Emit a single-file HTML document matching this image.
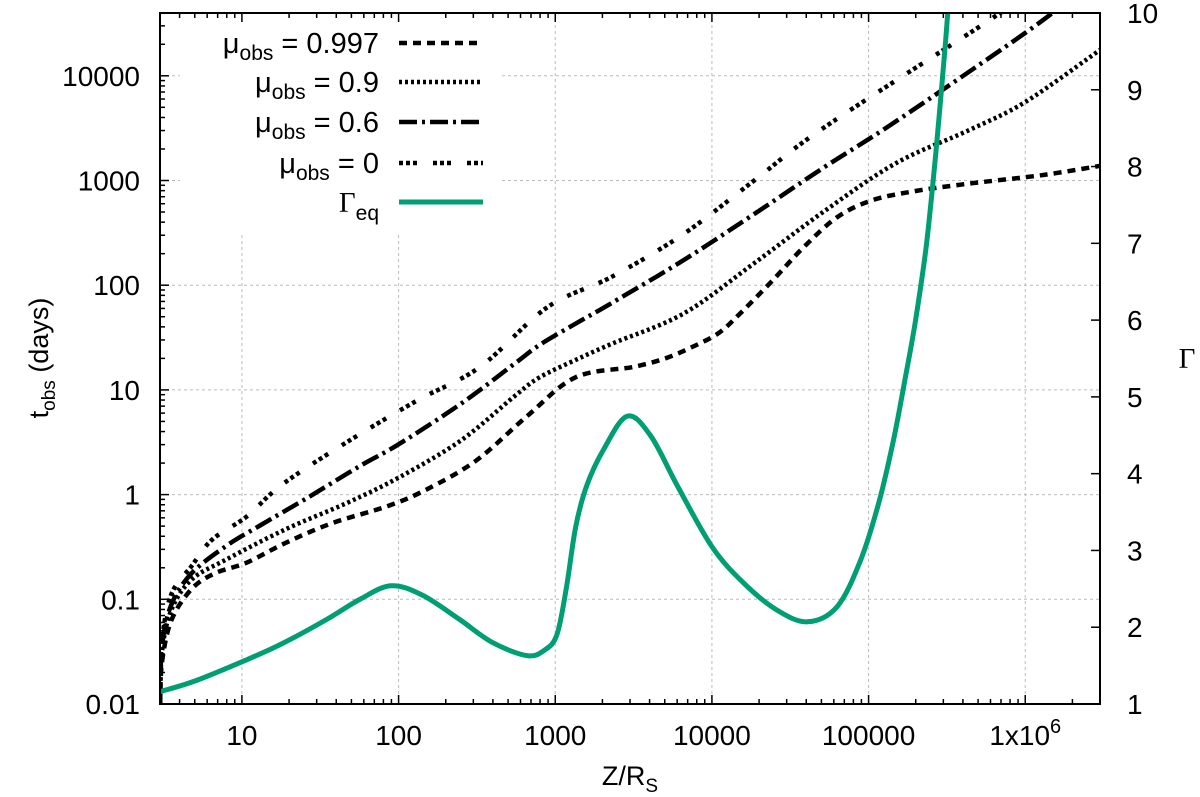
<!DOCTYPE html>
<html><head><meta charset="utf-8">
<style>
html,body{margin:0;padding:0;background:#fff;}
svg{display:block;font-family:"Liberation Sans",sans-serif;}
</style></head>
<body>
<svg id="chart" width="1200" height="797" viewBox="0 0 1200 797" xmlns="http://www.w3.org/2000/svg">
<g id="grid"></g>
<g id="series"></g>
<g id="axes"></g>
<g id="legend"></g>
<text transform="translate(48,358) rotate(-90)" text-anchor="middle" font-size="27">t<tspan font-size="19" dy="7">obs</tspan><tspan dy="-7"> (days)</tspan></text>
<text x="630" y="785" text-anchor="middle" font-size="27">Z/R<tspan font-size="19" dy="7">S</tspan></text>
<text x="1187" y="368" text-anchor="middle" font-size="29" font-family="Liberation Serif, serif">Γ</text>
</svg>
<script>
// ---- data ----
const logZ997 = [0.478,0.49,0.55,0.68,0.83,1.03,1.28,1.58,1.93,2.18,2.5,2.82,3.13,3.5,3.7,3.86,4.04,4.18,4.39,4.59,4.8,5.02,5.3,5.64,6.1,6.48];
const logT997 = [-2.0,-1.6,-1.2,-0.9,-0.75,-0.65,-0.46,-0.27,-0.11,0.05,0.33,0.75,1.12,1.22,1.30,1.40,1.54,1.73,2.05,2.37,2.65,2.81,2.90,2.97,3.05,3.14];
const logZ09 = [0.478,0.49,0.55,0.68,0.9,1.28,1.67,2.01,2.4,2.74,2.9,3.15,3.36,3.82,4.27,4.72,5.18,5.64,6.0,6.48];
const logT09 = [-2.0,-1.5,-1.1,-0.81,-0.62,-0.33,-0.08,0.17,0.52,0.94,1.12,1.30,1.44,1.73,2.21,2.71,3.17,3.48,3.75,4.25];
const logZ06 = [0.478,0.49,0.55,0.68,0.9,1.11,1.43,1.75,2.0,2.4,2.74,2.9,3.15,3.36,3.82,4.27,4.72,5.18,6.0,6.3];
const logT06 = [-2.0,-1.45,-1.05,-0.75,-0.49,-0.30,-0.02,0.27,0.48,0.87,1.25,1.43,1.65,1.83,2.24,2.68,3.13,3.57,4.41,4.75];
const logZ0 = [0.478,0.49,0.55,0.68,0.81,1.03,1.26,1.69,2.12,2.52,2.95,3.36,3.82,4.27,4.72,5.84,6.0];
const logT0 = [-2.0,-1.4,-0.95,-0.68,-0.43,-0.21,0.10,0.52,0.90,1.22,1.79,2.08,2.49,3.0,3.51,4.6,4.8];
const logZg = [0.477,0.7,1.0,1.25,1.54,1.75,1.95,2.15,2.39,2.6,2.82,2.93,3.01,3.07,3.13,3.2,3.31,3.46,3.61,3.78,4.0,4.2,4.41,4.61,4.8,4.95,5.07,5.16,5.23,5.30,5.37,5.43,5.49,5.52];
const gammaG = [1.16,1.30,1.55,1.78,2.1,2.36,2.54,2.42,2.1,1.8,1.63,1.70,1.9,2.5,3.3,3.84,4.32,4.75,4.49,3.84,3.05,2.58,2.23,2.07,2.27,2.88,3.66,4.45,5.2,6.0,7.0,8.2,9.6,10.4];
const xTickVals = [10,100,1000,10000,100000,1000000];
const xTickLabels = ["10","100","1000","10000","100000","1x10^6"];
const yTickVals = [0.01,0.1,1,10,100,1000,10000];
const yTickLabels = ["0.01","0.1","1","10","100","1000","10000"];
const y2TickVals = [1,2,3,4,5,6,7,8,9,10];

// ---- axes ----
const L=160,R=1100,T=13,B=704;
const xMin=Math.log10(3), xMax=Math.log10(3e6);
const yMin=-2, yMax=-2+(B-T)/104.7;
const X = lz => L+(lz-xMin)/(xMax-xMin)*(R-L);
const Y = lt => B-(lt-yMin)/(yMax-yMin)*(B-T);
const Y2 = g => B-(g-1)/9*(B-T);
const NS="http://www.w3.org/2000/svg";
function mk(tag,attrs,parent){const e=document.createElementNS(NS,tag);for(const k in attrs)e.setAttribute(k,attrs[k]);parent.appendChild(e);return e;}
const grid=document.getElementById('grid'), axes=document.getElementById('axes'), series=document.getElementById('series'), legend=document.getElementById('legend');

const defs=mk('defs',{},document.getElementById('chart'));
const cp=mk('clipPath',{id:'plotclip'},defs);
mk('rect',{x:L,y:T,width:R-L,height:B-T},cp);

xTickVals.forEach(v=>{const x=X(Math.log10(v));
 const g=mk('line',{x1:x,x2:x,y1:T,y2:B,stroke:'#bbb','stroke-width':1,'stroke-dasharray':'3,3'},grid);
 
 });
yTickVals.forEach(v=>{const y=Y(Math.log10(v));
 const g=mk('line',{x1:L,x2:R,y1:y,y2:y,stroke:'#bbb','stroke-width':1,'stroke-dasharray':'3,3'},grid);
 
 });

const fr=mk('rect',{x:L,y:T,width:R-L,height:B-T,fill:'none',stroke:'#000','stroke-width':2},axes);



for(let d=0;d<=6;d++){for(let m=1;m<=9;m++){const v=m*Math.pow(10,d);const lz=Math.log10(v);
 if(lz<xMin-1e-6||lz>xMax+1e-6)continue;const x=X(lz);const len=m===1?9:5;
 mk('line',{x1:x,x2:x,y1:B,y2:B-len,stroke:'#000','stroke-width':1.5},axes);
 mk('line',{x1:x,x2:x,y1:T,y2:T+len,stroke:'#000','stroke-width':1.5},axes);}}
xTickVals.forEach((v,i)=>{const x=X(Math.log10(v));
 const t=mk('text',{x:x,y:745,'text-anchor':'middle','font-size':28},axes);
 
 
 const lab=xTickLabels[i];
 if(lab.indexOf('^')>=0){const p=lab.split('^');t.textContent=p[0];const s=mk('tspan',{'font-size':20,dy:-12},t);s.textContent=p[1];}
 else t.textContent=lab;});

for(let d=-2;d<=4;d++){for(let m=1;m<=9;m++){const lt=Math.log10(m)+d;if(lt>yMax)continue;const y=Y(lt);const len=m===1?9:5;
 mk('line',{x1:L,x2:L+len,y1:y,y2:y,stroke:'#000','stroke-width':1.5},axes);}}
yTickVals.forEach((v,i)=>{const y=Y(Math.log10(v));
 const t=mk('text',{x:140,y:y+10,'text-anchor':'end','font-size':28},axes);
 
 
 t.textContent=yTickLabels[i];});

y2TickVals.forEach(g=>{const y=Y2(g);
 mk('line',{x1:R,x2:R-9,y1:y,y2:y,stroke:'#000','stroke-width':1.5},axes);
 const t=mk('text',{x:1127,y:y+10,'text-anchor':'start','font-size':28},axes);
 
 
 t.textContent=String(g);});

function path(xs,ys,fy){
 const P=xs.map((v,i)=>[X(v),fy(ys[i])]);
 let d='M'+P[0][0].toFixed(1)+','+P[0][1].toFixed(1);
 for(let i=0;i<P.length-1;i++){
  const p0=P[Math.max(0,i-1)],p1=P[i],p2=P[i+1],p3=P[Math.min(P.length-1,i+2)];
  const c1=[p1[0]+(p2[0]-p0[0])/6,p1[1]+(p2[1]-p0[1])/6];
  const c2=[p2[0]-(p3[0]-p1[0])/6,p2[1]-(p3[1]-p1[1])/6];
  d+=' C'+c1[0].toFixed(1)+','+c1[1].toFixed(1)+' '+c2[0].toFixed(1)+','+c2[1].toFixed(1)+' '+p2[0].toFixed(1)+','+p2[1].toFixed(1);
 }
 return d;}
const specs=[
 {xs:logZ997,ys:logT997,fy:Y,dash:'8,6',col:'#000',w:4.5,name:'series-mu-0997'},
 {xs:logZ09,ys:logT09,fy:Y,dash:'3,3',col:'#000',w:4.5,name:'series-mu-09'},
 {xs:logZ06,ys:logT06,fy:Y,dash:'18,5,3,5',col:'#000',w:4.5,name:'series-mu-06'},
 {xs:logZ0,ys:logT0,fy:Y,dash:'4,3,4,3,4,16',col:'#000',w:4.5,name:'series-mu-0'},
 {xs:logZg,ys:gammaG,fy:Y2,dash:'none',col:'#009e73',w:5,name:'series-gamma-eq'}];
specs.forEach(s=>{const p=mk('path',{d:path(s.xs,s.ys,s.fy),fill:'none',stroke:s.col,'stroke-width':s.w,'stroke-dasharray':s.dash,'stroke-linejoin':'round','clip-path':'url(#plotclip)'},series);
 
 });

const legRows=[{y:43,k:0,lab:'= 0.997'},{y:82,k:1,lab:'= 0.9'},{y:122,k:2,lab:'= 0.6'},{y:163,k:3,lab:'= 0'},{y:202,k:4,lab:''}];
const lb=mk('rect',{x:180,y:22,width:320,height:210,fill:'#fff'},legend);


legRows.forEach(r=>{const s=specs[r.k];
 const ln=mk('line',{x1:399,x2:483,y1:r.y,y2:r.y,stroke:s.col,'stroke-width':s.w,'stroke-dasharray':s.dash},legend);
 
 
 const t=mk('text',{x:379,y:r.y+10,'text-anchor':'end','font-size':29},legend);
 
 
 if(r.k<4){const a=mk('tspan',{},t);a.textContent='μ';const b=mk('tspan',{'font-size':21,dy:7},t);b.textContent='obs';const c=mk('tspan',{dy:-7},t);c.textContent=' '+r.lab;}
 else{const a=mk('tspan',{'font-family':'Liberation Serif, serif'},t);a.textContent='Γ';const b=mk('tspan',{'font-size':21,dy:8},t);b.textContent='eq';}});
</script>
</body></html>
